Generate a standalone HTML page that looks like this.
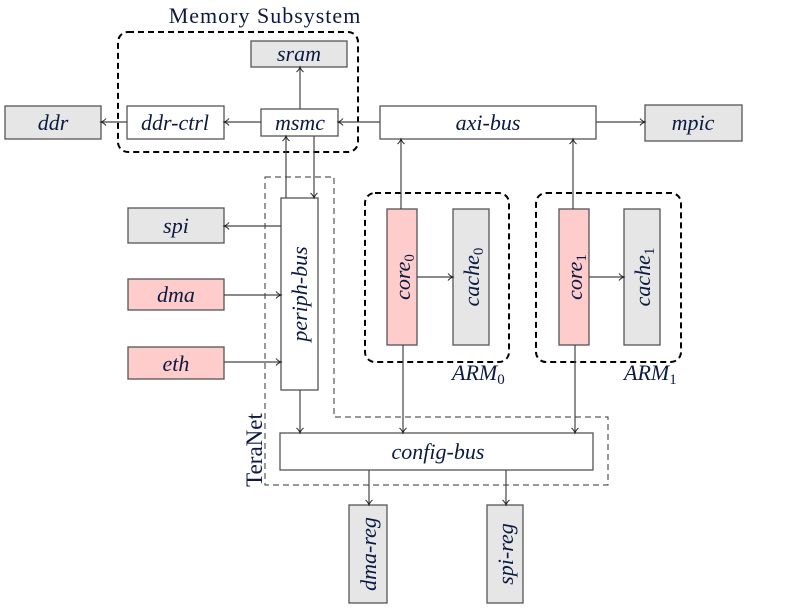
<!DOCTYPE html>
<html><head><meta charset="utf-8"><style>
html,body{margin:0;padding:0;background:#fff;}
svg{display:block;}
text{font-family:"Liberation Serif",serif;fill:#0b1a40;}
.it{font-style:italic;font-size:22px;}
.sub{font-style:normal;font-size:15px;}
</style></head><body>
<svg width="801" height="612" viewBox="0 0 801 612" xmlns="http://www.w3.org/2000/svg">
<defs>
<marker id="a" markerWidth="10" markerHeight="10" refX="7" refY="5" orient="auto" markerUnits="userSpaceOnUse">
<path d="M2,1.5 Q4,4 7,5 Q4,6 2,8.5" fill="none" stroke="#222" stroke-width="1"/>
</marker>
</defs>
<g fill="none" stroke="#000" stroke-width="2" stroke-dasharray="6,4">
<rect x="118" y="32" width="240" height="120" rx="10"/>
<rect x="365" y="193" width="144" height="169" rx="10"/>
<rect x="536" y="193" width="145" height="169" rx="10"/>
</g>
<polygon points="265,177 334,177 334,417 608,417 608,485 265,485" fill="none" stroke="#333" stroke-width="1" stroke-dasharray="6,4"/>
<g stroke="#555" stroke-width="1.3">
<rect x="251" y="41" width="96" height="26" fill="#e6e6e6"/>
<rect x="261" y="109" width="77" height="27" fill="#fff"/>
<rect x="127" y="106" width="97" height="33" fill="#fff"/>
<rect x="5" y="106" width="96" height="33" fill="#e6e6e6"/>
<rect x="380" y="106" width="216" height="33" fill="#fff"/>
<rect x="645" y="105" width="97" height="36" fill="#e6e6e6"/>
<rect x="281" y="198" width="37" height="192" fill="#fff"/>
<rect x="387" y="209" width="30" height="136" fill="#ffcccc"/>
<rect x="453" y="209" width="36" height="136" fill="#e6e6e6"/>
<rect x="559" y="209" width="30" height="136" fill="#ffcccc"/>
<rect x="624" y="209" width="36" height="136" fill="#e6e6e6"/>
<rect x="280" y="433" width="313" height="37" fill="#fff"/>
<rect x="349" y="505" width="38" height="98" fill="#e6e6e6"/>
<rect x="487" y="505" width="36" height="98" fill="#e6e6e6"/>
<rect x="128" y="208" width="96" height="35" fill="#e6e6e6"/>
<rect x="128" y="279" width="96" height="31" fill="#ffcccc"/>
<rect x="128" y="347" width="96" height="32" fill="#ffcccc"/>
</g>
<g stroke="#444" stroke-width="1.2" fill="none" marker-end="url(#a)">
<line x1="300" y1="109" x2="300" y2="67"/>
<line x1="261" y1="122" x2="224" y2="122"/>
<line x1="127" y1="122" x2="101" y2="122"/>
<line x1="380" y1="122" x2="338" y2="122"/>
<line x1="596" y1="122" x2="645" y2="122"/>
<line x1="286" y1="198" x2="286" y2="136"/>
<line x1="314" y1="136" x2="314" y2="198"/>
<line x1="401" y1="209" x2="401" y2="139"/>
<line x1="573" y1="209" x2="573" y2="139"/>
<line x1="417" y1="277" x2="453" y2="277"/>
<line x1="589" y1="277" x2="624" y2="277"/>
<line x1="403" y1="345" x2="403" y2="433"/>
<line x1="575" y1="345" x2="575" y2="433"/>
<line x1="300" y1="390" x2="300" y2="433"/>
<line x1="281" y1="226" x2="224" y2="226"/>
<line x1="224" y1="295" x2="281" y2="295"/>
<line x1="224" y1="362" x2="281" y2="362"/>
<line x1="369" y1="470" x2="369" y2="505"/>
<line x1="506" y1="470" x2="506" y2="505"/>
</g>
<text x="265" y="23" font-size="22" letter-spacing="1" text-anchor="middle">Memory Subsystem</text>
<text class="it" x="299" y="61" text-anchor="middle">sram</text>
<text class="it" x="300" y="130" text-anchor="middle">msmc</text>
<text class="it" x="175" y="130" text-anchor="middle">ddr-ctrl</text>
<text class="it" x="53" y="130" text-anchor="middle">ddr</text>
<text class="it" x="488" y="130" text-anchor="middle">axi-bus</text>
<text class="it" x="693" y="130" text-anchor="middle">mpic</text>
<text class="it" x="176" y="233" text-anchor="middle">spi</text>
<text class="it" x="176" y="302" text-anchor="middle">dma</text>
<text class="it" x="176" y="371" text-anchor="middle">eth</text>
<text class="it" x="438" y="459" text-anchor="middle">config-bus</text>
<text class="it" transform="translate(307,294) rotate(-90)" text-anchor="middle">periph-bus</text>
<text class="it" transform="translate(410,277) rotate(-90)" text-anchor="middle">core<tspan class="sub" dy="4">0</tspan></text>
<text class="it" transform="translate(479,277) rotate(-90)" text-anchor="middle">cache<tspan class="sub" dy="4">0</tspan></text>
<text class="it" transform="translate(582,277) rotate(-90)" text-anchor="middle">core<tspan class="sub" dy="4">1</tspan></text>
<text class="it" transform="translate(650,277) rotate(-90)" text-anchor="middle">cache<tspan class="sub" dy="4">1</tspan></text>
<text class="it" transform="translate(376,554) rotate(-90)" text-anchor="middle">dma-reg</text>
<text class="it" transform="translate(513,554) rotate(-90)" text-anchor="middle">spi-reg</text>
<text class="it" x="452" y="380">ARM<tspan class="sub" dy="4">0</tspan></text>
<text class="it" x="624" y="380">ARM<tspan class="sub" dy="4">1</tspan></text>
<text transform="translate(262,450) rotate(-90)" font-size="23" text-anchor="middle">TeraNet</text>
</svg>
</body></html>
